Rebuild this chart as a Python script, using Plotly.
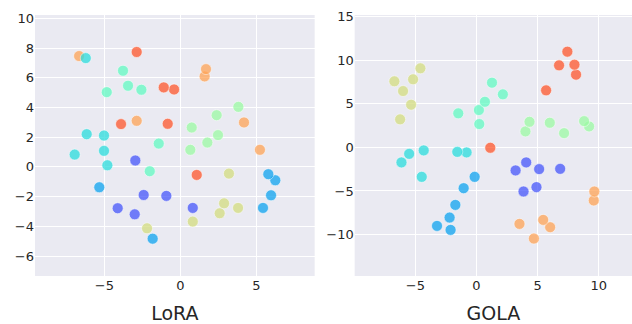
import plotly.graph_objects as go

# class colours (rainbow colormap samples), drawn with alpha
class_colors = ["#4757FB", "#0EA4F0", "#2BDDDD", "#63FBC3",
                "#9CFBA4", "#D4DD80", "#FFA457", "#FF572C"]

# ---- LoRA panel data (class index, x, y) ----
lora_cls = [1]*6 + [2]*6 + [3]*6 + [4]*6 + [5]*6 + [6]*6 + [7]*6 + [8]*6
lora_x = [-2.96, -2.41, -4.12, -3.00, -0.92, 0.82,
          -5.33, -1.82, 5.79, 6.25, 5.97, 5.44,
          -6.22, -6.16, -5.02, -6.95, -5.02, -4.80,
          -3.77, -3.44, -2.56, -1.42, -2.01, -4.84,
          3.82, 2.39, 0.75, 2.48, 1.78, 0.66,
          -2.19, 3.20, 2.88, 3.80, 2.59, 0.82,
          -6.66, -2.87, 1.69, 1.60, 4.19, 5.24,
          -2.87, -1.09, -0.41, -3.90, -0.83, 1.08]
lora_y = [0.43, -1.89, -2.78, -3.19, -1.95, -2.76,
          -1.37, -4.83, -0.49, -0.90, -1.91, -2.76,
          7.32, 2.20, 2.11, 0.83, 1.08, 0.11,
          6.47, 5.46, 5.19, 1.57, -0.29, 5.03,
          4.04, 3.48, 2.65, 2.14, 1.64, 1.15,
          -4.13, -0.45, -2.45, -2.76, -3.12, -3.68,
          7.46, 3.10, 6.58, 6.09, 2.99, 1.15,
          7.73, 5.35, 5.21, 2.88, 2.90, -0.54]

# ---- GOLA panel data ----
gola_cls = [1]*6 + [2]*6 + [3]*6 + [4]*6 + [5]*6 + [6]*6 + [7]*6 + [8]*6
gola_x = [4.07, 3.20, 5.13, 6.85, 3.85, 4.91,
          -0.15, -1.05, -1.73, -2.20, -3.23, -2.12,
          -5.51, -4.32, -1.57, -0.81, -6.14, -4.48,
          1.27, 2.16, 0.69, 0.20, 0.23, -1.49,
          4.34, 4.01, 6.00, 7.17, 8.81, 9.22,
          -6.72, -6.01, -5.19, -4.59, -5.35, -6.25,
          9.65, 9.60, 3.52, 5.46, 6.03, 4.70,
          7.44, 6.76, 8.02, 8.15, 5.70, 1.13]
gola_y = [-1.72, -2.64, -2.49, -2.46, -5.06, -4.56,
          -3.38, -4.68, -6.60, -8.05, -9.01, -9.47,
          -0.74, -0.34, -0.51, -0.57, -1.72, -3.38,
          7.43, 6.09, 5.24, 4.29, 2.68, 3.91,
          2.94, 1.84, 2.83, 1.64, 3.02, 2.41,
          7.59, 6.47, 7.82, 9.08, 4.90, 3.22,
          -5.06, -6.09, -8.78, -8.32, -9.16, -10.46,
          10.99, 9.42, 9.50, 8.35, 6.55, -0.04]

panel_titles = ["LoRA", "GOLA"]
lora_xticks = [-5, 0, 5]
lora_yticks = [-6, -4, -2, 0, 2, 4, 6, 8, 10]
gola_xticks = [-5, 0, 5, 10]
gola_yticks = [-10, -5, 0, 5, 10, 15]

FONT = "DejaVu Sans"
fig = go.Figure()


def add_panel(cls, xs, ys, xa, ya):
    order = list(range(len(xs)))[::-1]
    fig.add_trace(go.Scatter(
        x=[xs[i] for i in order], y=[ys[i] for i in order],
        mode="markers", xaxis=xa, yaxis=ya, showlegend=False,
        marker=dict(size=11, color=[class_colors[cls[i] - 1] for i in order],
                    opacity=0.75, line=dict(color="white", width=0.6)),
        hoverinfo="skip"))


add_panel(lora_cls, lora_x, lora_y, "x", "y")
add_panel(gola_cls, gola_x, gola_y, "x2", "y2")

ax_common = dict(showgrid=True, gridcolor="white", gridwidth=1, zeroline=False,
                 showline=False, ticks="", tickfont=dict(family=FONT, size=13, color="#262626"))

fig.update_layout(
    width=632, height=324,
    margin=dict(l=0, r=0, t=15, b=48, autoexpand=False),
    paper_bgcolor="white", plot_bgcolor="#EAEAF2",
    font=dict(family=FONT, color="#262626"),
    xaxis=dict(domain=[0.0554, 0.4979], range=[-9.56, 8.84], tickvals=lora_xticks,
               title=dict(text=panel_titles[0], font=dict(family=FONT, size=19, color="#262626"), standoff=16),
               anchor="y", **ax_common),
    yaxis=dict(domain=[0, 1], range=[-7.34, 10.22], tickvals=lora_yticks, anchor="x", **ax_common),
    xaxis2=dict(domain=[0.5612, 1.0], range=[-9.97, 12.73], tickvals=gola_xticks,
                title=dict(text=panel_titles[1], font=dict(family=FONT, size=19, color="#262626"), standoff=16),
                anchor="y2", **ax_common),
    yaxis2=dict(domain=[0, 1], range=[-14.76, 15.2], tickvals=gola_yticks, anchor="x2", **ax_common),
)

fig.write_html("out.html", config={"displayModeBar": False},
               post_script="document.body.style.margin='0';document.body.style.overflow='hidden';")
